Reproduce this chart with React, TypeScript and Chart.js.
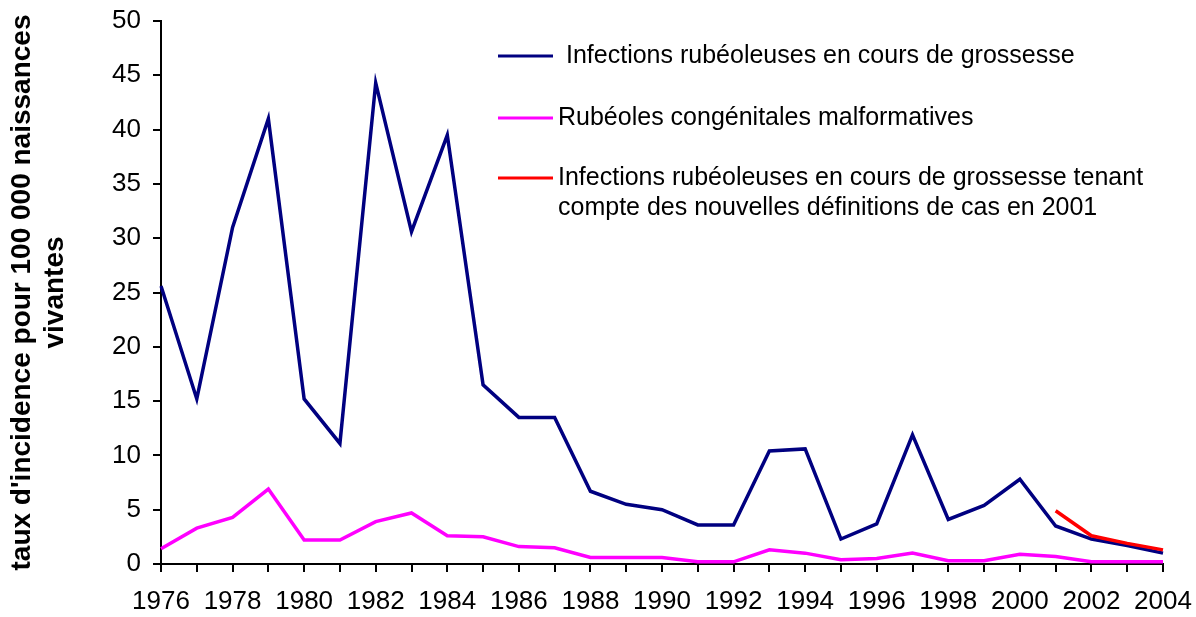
import React, { useEffect, useRef } from "react";
import { Chart, registerables } from "chart.js";

Chart.register(...registerables);

const years = [
  "1976", "1977", "1978", "1979", "1980", "1981", "1982", "1983", "1984", "1985",
  "1986", "1987", "1988", "1989", "1990", "1991", "1992", "1993", "1994", "1995",
  "1996", "1997", "1998", "1999", "2000", "2001", "2002", "2003", "2004",
];

const infectionsGrossesse = [
  25.6, 15.2, 31, 41, 15.2, 11.1, 44.3, 30.6, 39.5, 16.5,
  13.5, 13.5, 6.7, 5.5, 5.0, 3.6, 3.6, 10.4, 10.6, 2.3,
  3.7, 11.9, 4.1, 5.4, 7.8, 3.5, 2.3, 1.7, 1.0,
];

const rubeolesCongenitales = [
  1.4, 3.3, 4.3, 6.9, 2.2, 2.2, 3.9, 4.7, 2.6, 2.5,
  1.6, 1.5, 0.6, 0.6, 0.6, 0.2, 0.2, 1.3, 1.0, 0.4,
  0.5, 1.0, 0.3, 0.3, 0.9, 0.7, 0.2, 0.2, 0.2,
];

const infectionsNouvellesDefinitions = [
  null, null, null, null, null, null, null, null, null, null,
  null, null, null, null, null, null, null, null, null, null,
  null, null, null, null, null, 4.9, 2.6, 1.9, 1.3,
];

const seriesLabels = [
  ["Infections rubéoleuses en cours de grossesse"],
  ["Rubéoles congénitales malformatives"],
  [
    "Infections rubéoleuses en cours de grossesse tenant",
    "compte des nouvelles définitions de cas en 2001",
  ],
];
const seriesColors = ["#000080", "#FF00FF", "#FF0000"];

const yTitle = ["taux d'incidence pour 100 000 naissances", "vivantes"];

const FONT = "'Liberation Sans', Arial, Helvetica, sans-serif";

export default function App() {
  const ref = useRef<HTMLCanvasElement | null>(null);

  useEffect(() => {
    if (!ref.current) return;

    const legendPlugin = {
      id: "customLegend",
      afterDraw(chart: any) {
        const ctx = chart.ctx as CanvasRenderingContext2D;
        ctx.save();
        ctx.font = `25px ${FONT}`;
        ctx.fillStyle = "#000";
        ctx.textAlign = "left";
        ctx.textBaseline = "alphabetic";
        const lineY = [56, 118, 178];
        const textX = [566, 558, 558];
        const baseY = [63, 125, 185];
        for (let i = 0; i < seriesLabels.length; i++) {
          ctx.strokeStyle = seriesColors[i];
          ctx.lineWidth = 3;
          ctx.beginPath();
          ctx.moveTo(498, lineY[i]);
          ctx.lineTo(553, lineY[i]);
          ctx.stroke();
          seriesLabels[i].forEach((t, j) => {
            ctx.fillText(t, textX[i], baseY[i] + j * 30);
          });
        }
        ctx.restore();
      },
    };

    const chart = new Chart(ref.current, {
      type: "line",
      data: {
        labels: years,
        datasets: [
          {
            label: seriesLabels[0].join(" "),
            data: infectionsGrossesse,
            borderColor: seriesColors[0],
            backgroundColor: seriesColors[0],
            borderWidth: 3.5,
            pointRadius: 0,
            tension: 0,
            order: 1,
          },
          {
            label: seriesLabels[1].join(" "),
            data: rubeolesCongenitales,
            borderColor: seriesColors[1],
            backgroundColor: seriesColors[1],
            borderWidth: 3.5,
            pointRadius: 0,
            tension: 0,
            order: 2,
          },
          {
            label: seriesLabels[2].join(" "),
            data: infectionsNouvellesDefinitions,
            borderColor: seriesColors[2],
            backgroundColor: seriesColors[2],
            borderWidth: 3.5,
            pointRadius: 0,
            tension: 0,
            order: 0,
          },
        ],
      },
      options: {
        animation: false,
        responsive: true,
        maintainAspectRatio: false,
        layout: { padding: 0 },
        plugins: {
          legend: { display: false },
          tooltip: { enabled: false },
        },
        scales: {
          x: {
            type: "category",
            offset: false,
            grid: {
              display: true,
              drawOnChartArea: false,
              drawTicks: true,
              tickLength: 8,
              color: "#000",
              lineWidth: 2,
            },
            border: { display: true, color: "#000", width: 2 },
            ticks: {
              autoSkip: false,
              maxRotation: 0,
              minRotation: 0,
              padding: 14,
              color: "#000",
              font: { family: FONT, size: 26 },
              callback: (_v: any, i: number) => (i % 2 === 0 ? years[i] : ""),
            },
            afterFit: (scale: any) => {
              scale.height = 53;
              scale.paddingLeft = 0;
              scale.paddingRight = 33;
            },
          },
          y: {
            min: 0,
            max: 50,
            grid: {
              display: true,
              drawOnChartArea: false,
              drawTicks: true,
              tickLength: 8,
              color: "#000",
              lineWidth: 2,
            },
            border: { display: true, color: "#000", width: 2 },
            ticks: {
              stepSize: 5,
              padding: 12,
              color: "#000",
              font: { family: FONT, size: 26 },
            },
            title: {
              display: true,
              text: yTitle,
              color: "#000",
              font: { family: FONT, size: 28, weight: "bold", lineHeight: 1.2 },
              padding: { top: 5, bottom: 0 },
            },
            afterFit: (scale: any) => {
              scale.width = 161;
              scale.paddingTop = 21;
              scale.paddingBottom = 0;
            },
          },
        },
      },
      plugins: [legendPlugin],
    } as any);

    return () => chart.destroy();
  }, []);

  return (
    <div
      style={{
        position: "fixed",
        left: 0,
        top: 0,
        width: 1196,
        height: 617,
        background: "#fff",
      }}
    >
      <canvas ref={ref} />
    </div>
  );
}
